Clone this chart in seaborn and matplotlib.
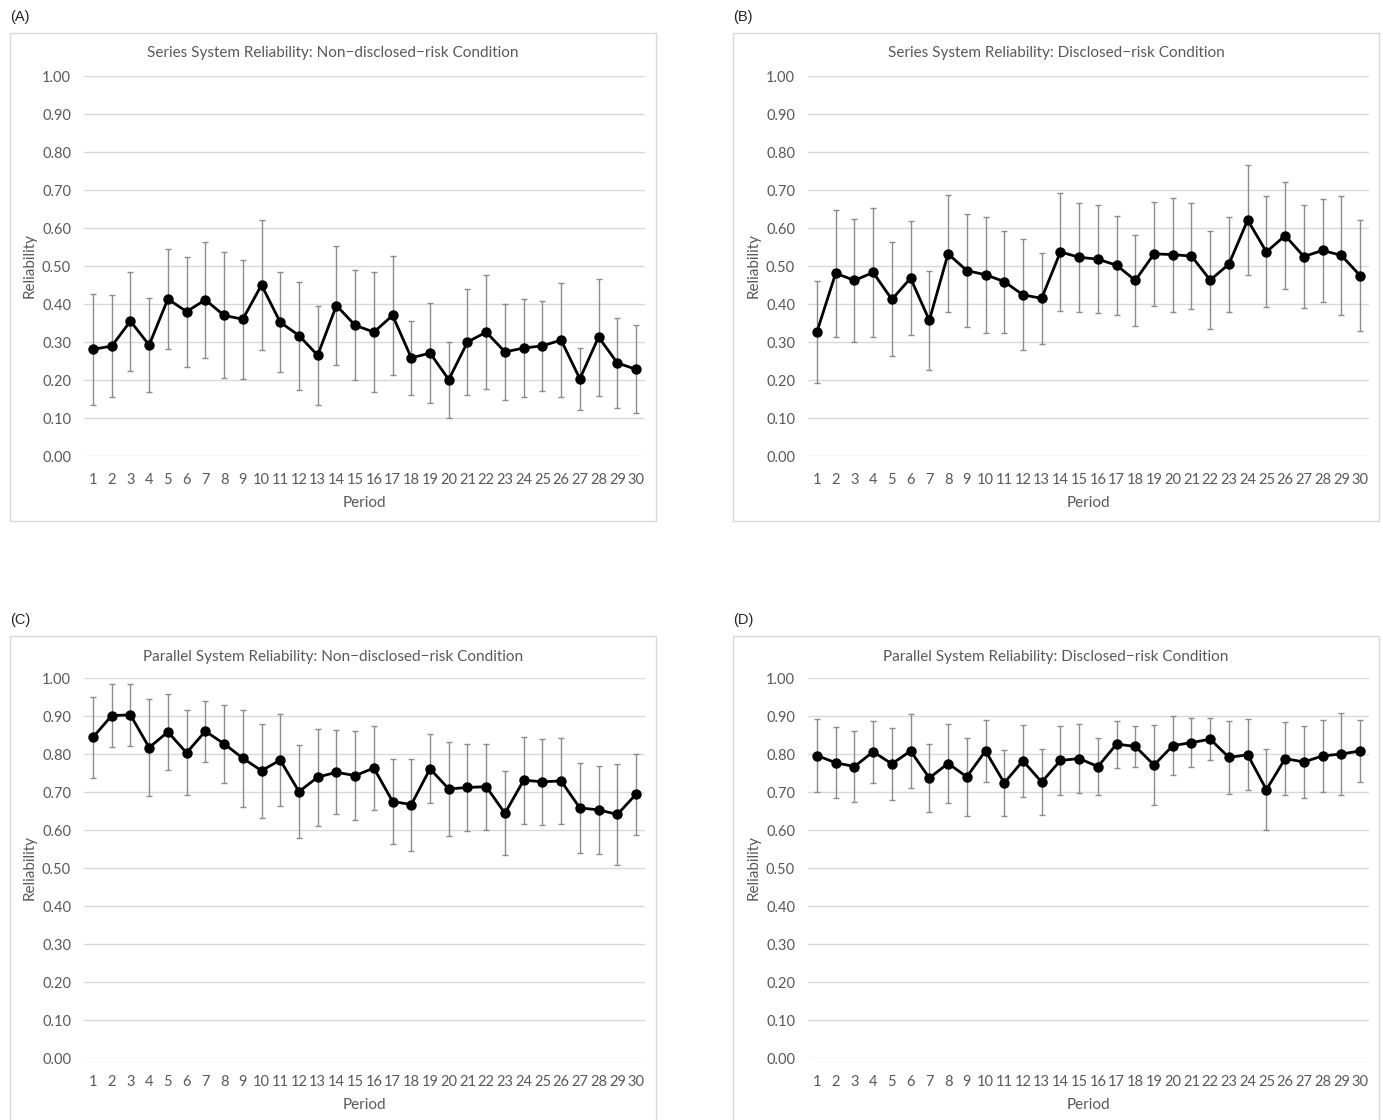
import numpy as np
import pandas as pd
import seaborn as sns
import matplotlib.pyplot as plt
from matplotlib.patches import Rectangle

periods = list(range(1, 31))

# (A) series, non-disclosed
series_nd_mean = [0.281, 0.289, 0.355, 0.292, 0.413, 0.380, 0.411, 0.370, 0.360, 0.450,
                  0.352, 0.317, 0.265, 0.396, 0.344, 0.326, 0.370, 0.258, 0.271, 0.201,
                  0.300, 0.326, 0.274, 0.284, 0.290, 0.305, 0.203, 0.313, 0.245, 0.228]
series_nd_err = [0.146, 0.134, 0.130, 0.123, 0.131, 0.145, 0.152, 0.166, 0.157, 0.171,
                 0.132, 0.142, 0.130, 0.157, 0.145, 0.158, 0.157, 0.097, 0.131, 0.100,
                 0.139, 0.150, 0.127, 0.129, 0.119, 0.150, 0.081, 0.154, 0.118, 0.116]

# (B) series, disclosed
series_d_mean = [0.327, 0.481, 0.462, 0.483, 0.412, 0.468, 0.357, 0.532, 0.488, 0.477,
                 0.459, 0.424, 0.415, 0.537, 0.523, 0.518, 0.502, 0.462, 0.532, 0.530,
                 0.526, 0.463, 0.505, 0.621, 0.537, 0.580, 0.525, 0.541, 0.528, 0.475]
series_d_err = [0.134, 0.167, 0.162, 0.170, 0.150, 0.150, 0.130, 0.154, 0.149, 0.153,
                0.134, 0.146, 0.120, 0.155, 0.143, 0.142, 0.130, 0.120, 0.137, 0.150,
                0.140, 0.130, 0.125, 0.145, 0.146, 0.141, 0.135, 0.135, 0.156, 0.147]

# (C) parallel, non-disclosed
parallel_nd_mean = [0.844, 0.901, 0.903, 0.817, 0.858, 0.803, 0.860, 0.827, 0.789, 0.756,
                    0.784, 0.701, 0.739, 0.752, 0.743, 0.763, 0.675, 0.667, 0.761, 0.708,
                    0.712, 0.714, 0.644, 0.731, 0.727, 0.729, 0.658, 0.653, 0.641, 0.694]
parallel_nd_err = [0.106, 0.082, 0.082, 0.128, 0.100, 0.112, 0.080, 0.102, 0.128, 0.124,
                   0.122, 0.122, 0.128, 0.110, 0.117, 0.110, 0.111, 0.121, 0.091, 0.123,
                   0.114, 0.113, 0.111, 0.115, 0.113, 0.114, 0.119, 0.115, 0.133, 0.106]

# (D) parallel, disclosed
parallel_d_mean = [0.796, 0.777, 0.767, 0.806, 0.774, 0.808, 0.737, 0.775, 0.740, 0.808,
                   0.724, 0.782, 0.726, 0.783, 0.788, 0.767, 0.826, 0.820, 0.771, 0.822,
                   0.830, 0.839, 0.791, 0.798, 0.706, 0.788, 0.779, 0.795, 0.800, 0.808]
parallel_d_err = [0.096, 0.094, 0.094, 0.081, 0.094, 0.098, 0.089, 0.105, 0.103, 0.082,
                  0.087, 0.094, 0.087, 0.091, 0.090, 0.075, 0.062, 0.055, 0.105, 0.078,
                  0.065, 0.056, 0.096, 0.094, 0.107, 0.096, 0.096, 0.094, 0.109, 0.081]

titles = [
    "Series System Reliability: Non\u2212disclosed\u2212risk Condition",
    "Series System Reliability: Disclosed\u2212risk Condition",
    "Parallel System Reliability: Non\u2212disclosed\u2212risk Condition",
    "Parallel System Reliability: Disclosed\u2212risk Condition",
]
panel_labels = ["(A)", "(B)", "(C)", "(D)"]
yticks = [0.0, 0.1, 0.2, 0.3, 0.4, 0.5, 0.6, 0.7, 0.8, 0.9, 1.0]

sns.set_theme(style="white")
plt.rcParams["font.family"] = ["Lato", "DejaVu Sans"]

W, H = 1383, 1120
fig = plt.figure(figsize=(W / 100, H / 100), dpi=100)
fig.patch.set_facecolor("white")

text_color = "#595959"
grid_color = "#d9d9d9"

panels = [
    (series_nd_mean, series_nd_err),
    (series_d_mean, series_d_err),
    (parallel_nd_mean, parallel_nd_err),
    (parallel_d_mean, parallel_d_err),
]

# pixel layout: (box left, box top, axes left, axes top)
layout = [
    (10, 33, 83.6, 76),
    (733, 33, 807.6, 76),
    (10, 636, 83.6, 678),
    (733, 636, 807.6, 678),
]

for i, ((mean, err), (bx, by, ax_l, ax_t)) in enumerate(zip(panels, layout)):
    # chart border
    box_h = 488 if i < 2 else (H - by + 10)
    fig.patches.append(Rectangle((bx / W, 1 - (by + box_h) / H), 646 / W, box_h / H,
                                 transform=fig.transFigure, fill=False,
                                 edgecolor=grid_color, linewidth=1.0, zorder=0))
    fig.text(bx / W, 1 - (by - 16) / H, panel_labels[i], ha="left", va="center",
             fontsize=10.5, color="#222222", family=["Liberation Sans", "DejaVu Sans"])
    fig.text((bx + 323) / W, 1 - (by + 20.5) / H, titles[i], ha="center", va="center",
             fontsize=11, color=text_color)

    ax = fig.add_axes([ax_l / W, 1 - (ax_t + 380) / H, 561.8 / W, 380 / H])
    df = pd.DataFrame({"Period": periods, "Reliability": mean, "err": err})

    ax.errorbar(df["Period"], df["Reliability"], yerr=df["err"], fmt="none",
                ecolor="#8c8c8c", elinewidth=1.0, capsize=2.2, capthick=1.0, zorder=2)
    sns.lineplot(data=df, x="Period", y="Reliability", ax=ax, color="black",
                 linewidth=2.0, marker="o", markersize=7.5, markeredgewidth=0,
                 markerfacecolor="black", zorder=3)

    ax.set_xlim(0.5, 30.5)
    ax.set_ylim(0, 1)
    ax.set_xticks(periods)
    ax.set_xticklabels([str(p) for p in periods])
    ax.set_yticks(yticks)
    ax.set_yticklabels([f"{t:.2f}" for t in yticks])
    ax.tick_params(axis="both", length=0, labelsize=10.5, colors=text_color)
    ax.tick_params(axis="x", pad=12.5)
    ax.tick_params(axis="y", pad=9)
    ax.grid(axis="y", color=grid_color, linewidth=1.0)
    ax.set_axisbelow(True)
    for s in ax.spines.values():
        s.set_visible(False)
    ax.set_xlabel("Period", fontsize=11, color=text_color, labelpad=6)
    ax.set_ylabel("Reliability", fontsize=11, color=text_color, labelpad=4)

fig.savefig("out.png", dpi=100, facecolor="white")
